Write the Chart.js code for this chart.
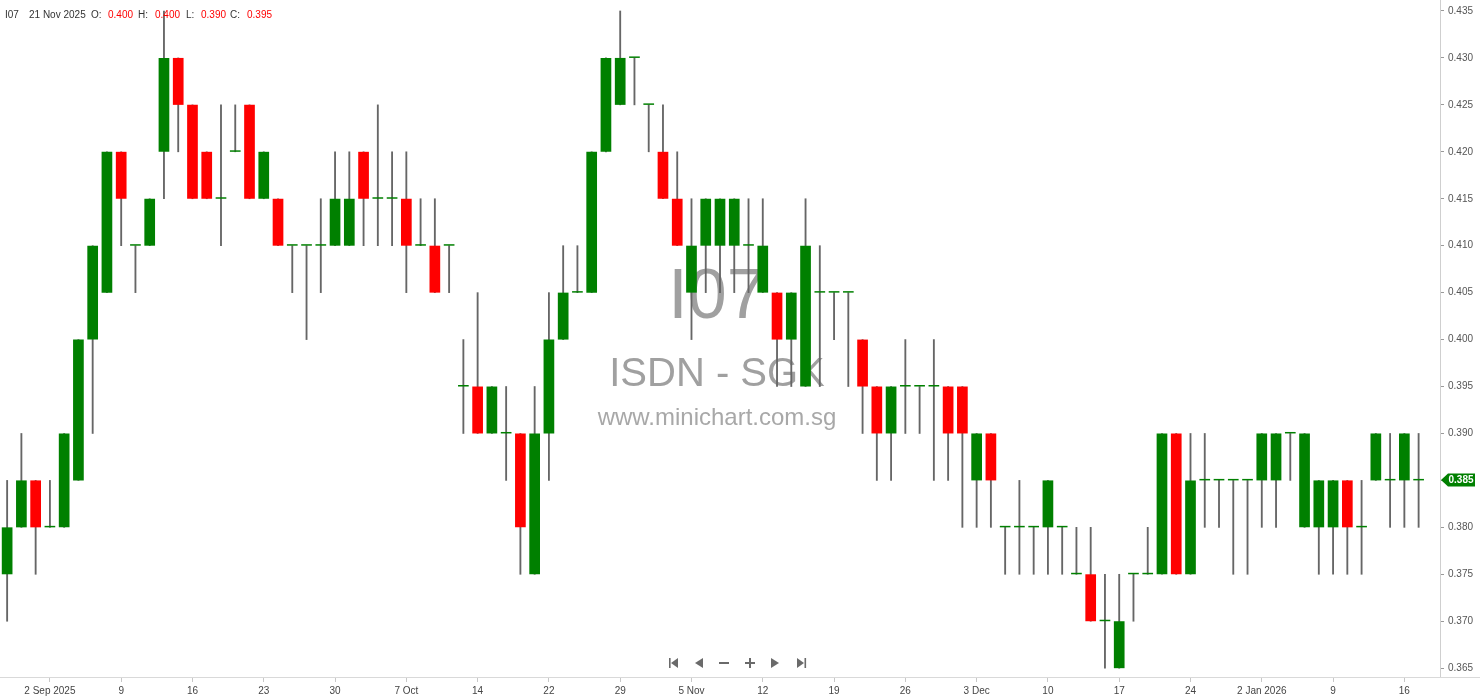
<!DOCTYPE html>
<html>
<head>
<meta charset="utf-8">
<script src="https://cdn.jsdelivr.net/npm/chart.js@4/dist/chart.umd.min.js"></script>
<style>
html,body{margin:0;padding:0;background:#fff;overflow:hidden}
#wrap{width:1480px;height:699px;position:relative}
</style>
</head>
<body>
<div id="wrap"><canvas id="c" width="1480" height="699"></canvas></div>
<script>
// ---- data ----
const symbol = 'I07';
const company = 'ISDN - SGK';
const site = 'www.minichart.com.sg';
const dates = [
 '2025-08-28','2025-08-29','2025-09-01','2025-09-02','2025-09-03','2025-09-04','2025-09-05','2025-09-08','2025-09-09','2025-09-10',
 '2025-09-11','2025-09-12','2025-09-15','2025-09-16','2025-09-17','2025-09-18','2025-09-19','2025-09-22','2025-09-23','2025-09-24',
 '2025-09-25','2025-09-26','2025-09-29','2025-09-30','2025-10-01','2025-10-02','2025-10-03','2025-10-06','2025-10-07','2025-10-08',
 '2025-10-09','2025-10-10','2025-10-13','2025-10-14','2025-10-15','2025-10-16','2025-10-17','2025-10-21','2025-10-22','2025-10-23',
 '2025-10-24','2025-10-27','2025-10-28','2025-10-29','2025-10-30','2025-10-31','2025-11-03','2025-11-04','2025-11-05','2025-11-06',
 '2025-11-07','2025-11-10','2025-11-11','2025-11-12','2025-11-13','2025-11-14','2025-11-17','2025-11-18','2025-11-19','2025-11-20',
 '2025-11-21','2025-11-24','2025-11-25','2025-11-26','2025-11-27','2025-11-28','2025-12-01','2025-12-02','2025-12-03','2025-12-04',
 '2025-12-05','2025-12-08','2025-12-09','2025-12-10','2025-12-11','2025-12-12','2025-12-15','2025-12-16','2025-12-17','2025-12-18',
 '2025-12-19','2025-12-22','2025-12-23','2025-12-24','2025-12-26','2025-12-29','2025-12-30','2025-12-31','2026-01-02','2026-01-05',
 '2026-01-06','2026-01-07','2026-01-08','2026-01-09','2026-01-12','2026-01-13','2026-01-14','2026-01-15','2026-01-16','2026-01-19'
];
const open = [
 .375,.380,.385,.380,.380,.385,.400,.405,.420,.410,
 .410,.420,.430,.425,.420,.415,.420,.425,.415,.415,
 .410,.410,.410,.410,.410,.420,.415,.415,.415,.410,
 .410,.410,.395,.395,.390,.390,.390,.375,.390,.400,
 .405,.405,.420,.425,.430,.425,.420,.415,.405,.410,
 .410,.410,.410,.405,.405,.400,.395,.405,.405,.405,
 .400,.395,.390,.395,.395,.395,.395,.395,.385,.390,
 .380,.380,.380,.380,.380,.375,.375,.370,.365,.375,
 .375,.375,.390,.375,.385,.385,.385,.385,.385,.385,
 .390,.380,.380,.380,.385,.380,.385,.385,.385,.385
];
const high = [
 .385,.390,.385,.385,.390,.400,.410,.420,.420,.410,
 .415,.435,.430,.425,.420,.425,.425,.425,.420,.415,
 .410,.410,.415,.420,.420,.420,.425,.420,.420,.415,
 .415,.410,.400,.405,.395,.395,.390,.395,.405,.410,
 .410,.420,.430,.435,.430,.425,.425,.420,.415,.415,
 .415,.415,.415,.415,.405,.405,.415,.410,.405,.405,
 .400,.395,.395,.400,.395,.400,.395,.395,.390,.390,
 .380,.385,.380,.385,.380,.380,.380,.375,.375,.375,
 .380,.390,.390,.390,.390,.385,.385,.385,.390,.390,
 .390,.390,.385,.385,.385,.385,.390,.390,.390,.390
];
const low = [
 .370,.380,.375,.380,.380,.385,.390,.405,.410,.405,
 .410,.415,.420,.415,.415,.410,.420,.415,.415,.410,
 .405,.400,.405,.410,.410,.410,.410,.410,.405,.410,
 .405,.405,.390,.390,.390,.385,.375,.375,.385,.400,
 .405,.405,.420,.425,.425,.420,.415,.410,.400,.405,
 .405,.405,.405,.405,.395,.395,.395,.395,.400,.395,
 .390,.385,.385,.390,.390,.385,.385,.380,.380,.380,
 .375,.375,.375,.375,.375,.375,.370,.365,.365,.370,
 .375,.375,.375,.375,.380,.380,.375,.375,.380,.380,
 .385,.380,.375,.375,.375,.375,.385,.380,.380,.380
];
const close = [
 .380,.385,.380,.380,.390,.400,.410,.420,.415,.410,
 .415,.430,.425,.415,.415,.415,.420,.415,.420,.410,
 .410,.410,.410,.415,.415,.415,.415,.415,.410,.410,
 .405,.410,.395,.390,.395,.390,.380,.390,.400,.405,
 .405,.420,.430,.430,.430,.425,.415,.410,.410,.415,
 .415,.415,.410,.410,.400,.405,.410,.405,.405,.405,
 .395,.390,.395,.395,.395,.395,.390,.390,.390,.385,
 .380,.380,.380,.385,.380,.375,.370,.370,.370,.375,
 .375,.390,.375,.385,.385,.385,.385,.385,.390,.390,
 .390,.390,.385,.385,.380,.380,.390,.385,.390,.385
];
const hoverIndex = 60; // candle shown in the header (21 Nov 2025)

// ---- helpers ----
const UP = '#008000', DOWN = '#ff0000', WICK = '#666666';
const MON = ['Jan','Feb','Mar','Apr','May','Jun','Jul','Aug','Sep','Oct','Nov','Dec'];
function parts(s){ const [y,m,d] = s.split('-').map(Number); return {y,m,d}; }
function fmtLong(s){ const p = parts(s); return p.d + ' ' + MON[p.m-1] + ' ' + p.y; }
const labelEvery = 5, labelStart = 3;
function isLabelIdx(i){ return i < dates.length && i % labelEvery === labelStart; }
function tickText(i){
  if (!isLabelIdx(i)) return '';
  const p = parts(dates[i]);
  const prevI = i - labelEvery;
  if (prevI < 0) return p.d + ' ' + MON[p.m-1] + ' ' + p.y;
  const q = parts(dates[prevI]);
  if (q.y !== p.y) return p.d + ' ' + MON[p.m-1] + ' ' + p.y;
  if (q.m !== p.m) return p.d + ' ' + MON[p.m-1];
  return String(p.d);
}

const categories = dates.concat(['']); // one empty slot of right margin
const bodies = dates.map((d,i) => [open[i], close[i]]);
const wicks = dates.map((d,i) => [low[i], high[i]]);
const bodyColors = dates.map((d,i) => close[i] < open[i] ? DOWN : UP);

const FONT = '"Liberation Sans", Arial, sans-serif';

const deco = {
  id: 'deco',
  beforeDatasetsDraw(chart){
    const ctx = chart.ctx;
    const cx = 717;
    ctx.save();
    ctx.textAlign = 'center';
    ctx.textBaseline = 'alphabetic';
    ctx.fillStyle = '#a0a0a0';
    ctx.font = '70px ' + FONT;
    ctx.fillText(symbol, cx, 318);
    ctx.font = '40px ' + FONT;
    ctx.fillText(company, cx, 386);
    ctx.fillStyle = '#a8a8a8';
    ctx.font = '24px ' + FONT;
    ctx.fillText(site, cx, 425);
    ctx.restore();
  },
  afterDraw(chart){
    const ctx = chart.ctx, a = chart.chartArea, y = chart.scales.y;
    ctx.save();
    ctx.strokeStyle = '#d9d9d9';
    ctx.lineWidth = 1;
    ctx.beginPath(); ctx.moveTo(0, a.bottom + 0.5); ctx.lineTo(1480, a.bottom + 0.5); ctx.stroke();
    ctx.strokeStyle = '#cfcfcf';
    ctx.beginPath(); ctx.moveTo(a.right + 0.5, 0); ctx.lineTo(a.right + 0.5, a.bottom); ctx.stroke();

    // header
    ctx.font = '10px ' + FONT;
    ctx.textBaseline = 'middle';
    ctx.textAlign = 'left';
    const hi = hoverIndex;
    const items = [
      [symbol, 5, '#333'], [fmtLong(dates[hi]), 29, '#333'],
      ['O:', 91, '#333'], [open[hi].toFixed(3), 108, DOWN],
      ['H:', 138, '#333'], [high[hi].toFixed(3), 155, DOWN],
      ['L:', 186, '#333'], [low[hi].toFixed(3), 201, DOWN],
      ['C:', 230, '#333'], [close[hi].toFixed(3), 247, DOWN]
    ];
    items.forEach(([t, x, c]) => { ctx.fillStyle = c; ctx.fillText(t, x, 15); });

    // last price tag
    const last = close[close.length - 1];
    const py = Math.round(y.getPixelForValue(last));
    const x0 = a.right + 1;
    ctx.fillStyle = UP;
    ctx.beginPath();
    ctx.moveTo(x0, py);
    ctx.lineTo(x0 + 7, py - 6.5);
    ctx.lineTo(1475, py - 6.5);
    ctx.lineTo(1475, py + 6.5);
    ctx.lineTo(x0 + 7, py + 6.5);
    ctx.closePath();
    ctx.fill();
    ctx.fillStyle = '#fff';
    ctx.font = 'bold 10px ' + FONT;
    ctx.textAlign = 'center';
    ctx.fillText(last.toFixed(3), 1461, py + 0.5);

    // navigation icons
    ctx.fillStyle = '#6a6a6a';
    const ny = 663;
    ctx.fillRect(669, ny - 5, 1.6, 10);
    ctx.beginPath(); ctx.moveTo(678, ny - 5); ctx.lineTo(678, ny + 5); ctx.lineTo(671, ny); ctx.closePath(); ctx.fill();
    ctx.beginPath(); ctx.moveTo(703, ny - 5); ctx.lineTo(703, ny + 5); ctx.lineTo(695, ny); ctx.closePath(); ctx.fill();
    ctx.fillRect(719, ny - 1, 10, 2);
    ctx.fillRect(745, ny - 1, 10, 2);
    ctx.fillRect(749, ny - 5, 2, 10);
    ctx.beginPath(); ctx.moveTo(771, ny - 5); ctx.lineTo(771, ny + 5); ctx.lineTo(779, ny); ctx.closePath(); ctx.fill();
    ctx.beginPath(); ctx.moveTo(797, ny - 5); ctx.lineTo(797, ny + 5); ctx.lineTo(804, ny); ctx.closePath(); ctx.fill();
    ctx.fillRect(804.5, ny - 5, 1.6, 10);
    ctx.restore();
  }
};

new Chart(document.getElementById('c'), {
  type: 'bar',
  data: {
    labels: categories,
    datasets: [
      {
        label: 'body', data: bodies, backgroundColor: bodyColors,
        borderWidth: 0, grouped: false, barPercentage: 0.75, categoryPercentage: 1,
        minBarLength: 1.5, order: 0
      },
      {
        label: 'wick', data: wicks, backgroundColor: WICK,
        borderWidth: 0, grouped: false, barThickness: 1.2, order: 1
      }
    ]
  },
  options: {
    responsive: false,
    animation: false,
    events: [],
    layout: { padding: 0 },
    plugins: { legend: { display: false }, tooltip: { enabled: false } },
    scales: {
      x: {
        type: 'category',
        offset: true,
        border: { display: false },
        grid: {
          display: true, offset: false, drawOnChartArea: false, drawTicks: true, tickLength: 5,
          color: (c) => isLabelIdx(c.index) ? '#c8c8c8' : 'rgba(0,0,0,0)'
        },
        ticks: {
          autoSkip: false, maxRotation: 0, minRotation: 0, padding: 3,
          color: '#444', font: { size: 10, family: FONT },
          callback: function(v, i){ return tickText(i); }
        },
        afterFit(s){ s.height = 22; s.paddingLeft = 0; s.paddingRight = 0; }
      },
      y: {
        position: 'right',
        min: 0.36406, max: 0.43617,
        border: { display: false },
        grid: { drawOnChartArea: false, drawTicks: true, tickLength: 4, color: '#999' },
        ticks: {
          stepSize: 0.005, includeBounds: false, padding: 4,
          color: '#555', font: { size: 10, family: FONT },
          callback: (v) => Number(v).toFixed(3)
        },
        afterFit(s){ s.width = 40; s.paddingTop = 0; s.paddingBottom = 0; }
      }
    }
  },
  plugins: [deco]
});
</script>
</body>
</html>
